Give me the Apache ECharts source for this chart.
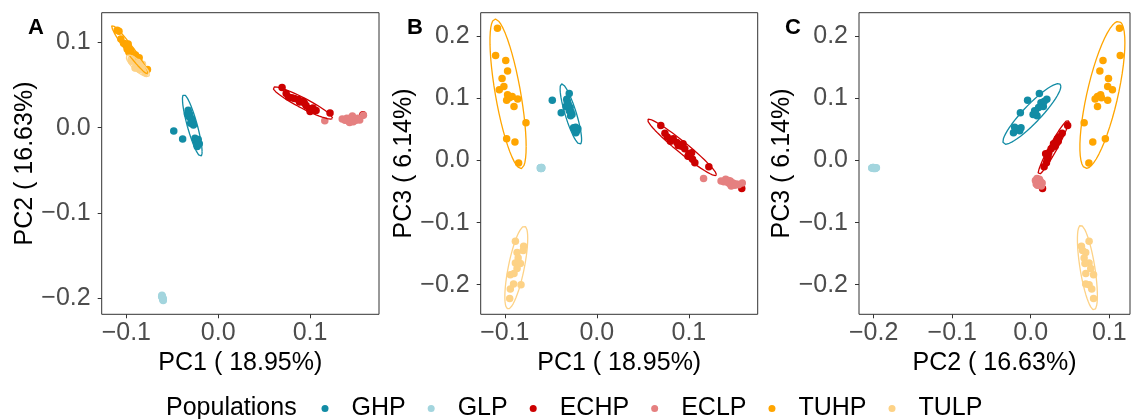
<!DOCTYPE html>
<html>
<head>
<meta charset="utf-8">
<script src="https://cdn.jsdelivr.net/npm/echarts@6/dist/echarts.min.js"></script>
<style>
  html, body { margin: 0; padding: 0; background: #fff; }
  #chart { width: 1131px; height: 419px; }
</style>
</head>
<body>
<div id="chart"></div>
<script>
// Populations and their colours
const POPULATIONS = ['GHP', 'GLP', 'ECHP', 'ECLP', 'TUHP', 'TULP'];
const COLORS = ['#128CA5', '#A3D5DE', '#CC0000', '#E58080', '#FFA500', '#FDD286'];
// Populations that get a 95% confidence ellipse
const ELLIPSE_POPS = ['GHP', 'ECHP', 'TUHP', 'TULP'];

// Principal component scores per individual
const GHP_PC1 = [-0.0484, -0.0387, -0.0300, -0.0327, -0.0320, -0.0335, -0.0290, -0.0300, -0.0270, -0.0285, -0.0310, -0.0253, -0.0206, -0.0228, -0.0240, -0.0218, -0.0230, -0.0320, -0.0280];
const GHP_PC2 = [-0.0040, -0.0132, 0.0110, 0.0205, 0.0130, 0.0160, 0.0100, 0.0050, 0.0030, 0.0080, 0.0150, -0.0124, -0.0190, -0.0220, -0.0160, -0.0140, -0.0205, 0.0170, 0.0060];
const GHP_PC3 = [0.0970, 0.0770, 0.1080, 0.0985, 0.0930, 0.0870, 0.0855, 0.0800, 0.0740, 0.0720, 0.0900, 0.0526, 0.0510, 0.0446, 0.0500, 0.0480, 0.0535, 0.0950, 0.0780];

const GLP_PC1 = [-0.0612, -0.0605, -0.0600, -0.0610, -0.0598, -0.0608, -0.0603, -0.0615, -0.0601, -0.0607, -0.0604, -0.0609];
const GLP_PC2 = [-0.1965, -0.1990, -0.2010, -0.1980, -0.2025, -0.1995, -0.2000, -0.1975, -0.2020, -0.1992, -0.2005, -0.1985];
const GLP_PC3 = [-0.0118, -0.0125, -0.0112, -0.0130, -0.0120, -0.0115, -0.0128, -0.0122, -0.0119, -0.0126, -0.0113, -0.0124];

const ECHP_PC1 = [0.0695, 0.0740, 0.0765, 0.0800, 0.0830, 0.0870, 0.0885, 0.0920, 0.0937, 0.0956, 0.0990, 0.1000, 0.1030, 0.1040, 0.1065, 0.1217, 0.1575];
const ECHP_PC2 = [0.0470, 0.0400, 0.0360, 0.0350, 0.0340, 0.0330, 0.0300, 0.0310, 0.0290, 0.0260, 0.0220, 0.0190, 0.0230, 0.0210, 0.0200, 0.0170, 0.0150];
const ECHP_PC3 = [0.0565, 0.0440, 0.0380, 0.0310, 0.0350, 0.0290, 0.0240, 0.0230, 0.0270, 0.0190, 0.0070, 0.0110, 0.0124, 0.0020, -0.0037, -0.0100, -0.0450];

const ECLP_PC1 = [0.1160, 0.1350, 0.1380, 0.1400, 0.1420, 0.1440, 0.1450, 0.1470, 0.1480, 0.1500, 0.1520, 0.1540, 0.1460, 0.1580, 0.1430];
const ECLP_PC2 = [0.0080, 0.0100, 0.0085, 0.0110, 0.0075, 0.0095, 0.0120, 0.0070, 0.0100, 0.0085, 0.0110, 0.0090, 0.0135, 0.0145, 0.0060];
const ECLP_PC3 = [-0.0290, -0.0330, -0.0340, -0.0300, -0.0350, -0.0370, -0.0330, -0.0380, -0.0360, -0.0400, -0.0380, -0.0390, -0.0410, -0.0360, -0.0320];

const TUHP_PC1 = [-0.108, -0.110, -0.099, -0.097, -0.103, -0.101, -0.106, -0.097, -0.092, -0.095, -0.086, -0.098, -0.090, -0.077, -0.098, -0.089, -0.085];
const TUHP_PC2 = [0.113, 0.114, 0.092, 0.088, 0.099, 0.098, 0.104, 0.089, 0.085, 0.090, 0.082, 0.098, 0.085, 0.068, 0.095, 0.079, 0.074];
const TUHP_PC3 = [0.213, 0.169, 0.161, 0.144, 0.132, 0.119, 0.114, 0.106, 0.103, 0.101, 0.099, 0.097, 0.087, 0.061, 0.035, 0.030, -0.004];

const TULP_PC1 = [-0.0885, -0.0795, -0.0800, -0.0867, -0.0855, -0.0885, -0.0831, -0.0867, -0.0940, -0.0900, -0.0905, -0.0824, -0.0940, -0.0947];
const TULP_PC2 = [0.0743, 0.0645, 0.0660, 0.0700, 0.0680, 0.0743, 0.0690, 0.0764, 0.0800, 0.0701, 0.0700, 0.0743, 0.0777, 0.0800];
const TULP_PC3 = [-0.130, -0.138, -0.145, -0.148, -0.157, -0.165, -0.166, -0.174, -0.184, -0.182, -0.199, -0.200, -0.207, -0.222];

// Axis titles and tick values
const PC_TITLES = { PC1: 'PC1 ( 18.95%)', PC2: 'PC2 ( 16.63%)', PC3: 'PC3 ( 6.14%)' };
const TICKS_PC1 = [-0.1, 0.0, 0.1];
const TICKS_PC2_A = [-0.2, -0.1, 0.0, 0.1];
const TICKS_PC2_C = [-0.2, -0.1, 0.0, 0.1];
const TICKS_PC3 = [-0.2, -0.1, 0.0, 0.1, 0.2];
const PANEL_TAGS = ['A', 'B', 'C'];

const SCORES = {
  GHP: { PC1: GHP_PC1, PC2: GHP_PC2, PC3: GHP_PC3 },
  GLP: { PC1: GLP_PC1, PC2: GLP_PC2, PC3: GLP_PC3 },
  ECHP: { PC1: ECHP_PC1, PC2: ECHP_PC2, PC3: ECHP_PC3 },
  ECLP: { PC1: ECLP_PC1, PC2: ECLP_PC2, PC3: ECLP_PC3 },
  TUHP: { PC1: TUHP_PC1, PC2: TUHP_PC2, PC3: TUHP_PC3 },
  TULP: { PC1: TULP_PC1, PC2: TULP_PC2, PC3: TULP_PC3 }
};

const FONT = '"Liberation Sans", Arial, Helvetica, sans-serif';

// Robust multivariate-t location/scatter estimate (nu = 5), as used for
// data ellipses, restricted to two dimensions.
function covTrob(xs, ys, nu = 5, maxit = 25, tol = 0.01) {
  const n = xs.length, p = 2;
  let w = new Array(n).fill(1);
  let lx = xs.reduce((a, b) => a + b, 0) / n;
  let ly = ys.reduce((a, b) => a + b, 0) / n;
  let dx = [], dy = [];
  for (let it = 0; it < maxit; it++) {
    const w0 = w.slice();
    dx = xs.map(v => v - lx);
    dy = ys.map(v => v - ly);
    const sw = w.reduce((a, b) => a + b, 0);
    let sxx = 0, sxy = 0, syy = 0;
    for (let i = 0; i < n; i++) {
      sxx += w[i] * dx[i] * dx[i] / sw;
      sxy += w[i] * dx[i] * dy[i] / sw;
      syy += w[i] * dy[i] * dy[i] / sw;
    }
    const det = sxx * syy - sxy * sxy;
    w = dx.map((u, i) => {
      const v = dy[i];
      const q = (syy * u * u - 2 * sxy * u * v + sxx * v * v) / det;
      return (nu + p) / (nu + q);
    });
    const sw2 = w.reduce((a, b) => a + b, 0);
    lx = xs.reduce((a, v, i) => a + w[i] * v, 0) / sw2;
    ly = ys.reduce((a, v, i) => a + w[i] * v, 0) / sw2;
    if (w.every((v, i) => Math.abs(v - w0[i]) < tol)) break;
  }
  let c11 = 0, c12 = 0, c22 = 0;
  for (let i = 0; i < n; i++) {
    c11 += w[i] * dx[i] * dx[i];
    c12 += w[i] * dx[i] * dy[i];
    c22 += w[i] * dy[i] * dy[i];
  }
  return { cx: lx, cy: ly, c11: c11 / n, c12: c12 / n, c22: c22 / n };
}

// 95% data ellipse outline (t-based), as a closed polyline in data space.
function ellipsePath(xs, ys, level = 0.95, segments = 51) {
  const s = covTrob(xs, ys);
  const dfd = xs.length - 1;
  const qf = dfd / 2 * (Math.pow(1 - level, -2 / dfd) - 1);
  const radius = Math.sqrt(2 * qf);
  const a = Math.sqrt(s.c11);
  const b = s.c12 / a;
  const c = Math.sqrt(Math.max(s.c22 - b * b, 0));
  const pts = [];
  for (let k = 0; k <= segments; k++) {
    const t = 2 * Math.PI * k / segments;
    pts.push([s.cx + radius * Math.cos(t) * a,
              s.cy + radius * (Math.cos(t) * b + Math.sin(t) * c)]);
  }
  return pts;
}

function tickLabel(v) {
  const s = Math.abs(v).toFixed(1);
  return v < -1e-9 ? '\u2212' + s : s;
}

// Panel geometry and data ranges
const PANELS = [
  { x: 'PC1', y: 'PC2', left: 101.7, width: 277.3, xMin: -0.1268, xMax: 0.1750, yMin: -0.2188, yMax: 0.1347, xTicks: TICKS_PC1, yTicks: TICKS_PC2_A },
  { x: 'PC1', y: 'PC3', left: 480.7, width: 277.0, xMin: -0.1262, xMax: 0.1748, yMin: -0.2476, yMax: 0.2380, xTicks: TICKS_PC1, yTicks: TICKS_PC3 },
  { x: 'PC2', y: 'PC3', left: 859.0, width: 271.0, xMin: -0.2187, xMax: 0.1264, yMin: -0.2476, yMax: 0.2380, xTicks: TICKS_PC2_C, yTicks: TICKS_PC3 }
];
const PLOT_TOP = 12.7, PLOT_HEIGHT = 301.6;

const grids = [], xAxes = [], yAxes = [], series = [], titles = [];

PANELS.forEach((p, gi) => {
  grids.push({
    left: p.left, top: PLOT_TOP, width: p.width, height: PLOT_HEIGHT,
    show: true, borderColor: '#333333', borderWidth: 1, backgroundColor: '#fff'
  });
  const common = {
    type: 'value', gridIndex: gi, splitLine: { show: false },
    axisLine: { show: false, onZero: false },
    axisTick: { show: true, length: 4, lineStyle: { color: '#333333', width: 1 } },
    nameLocation: 'middle',
    nameTextStyle: { fontSize: 25, color: '#000', fontFamily: FONT }
  };
  xAxes.push(Object.assign({}, common, {
    position: 'bottom',
    min: p.xMin, max: p.xMax, name: PC_TITLES[p.x], nameGap: 31,
    axisTick: Object.assign({}, common.axisTick, { customValues: p.xTicks }),
    axisLabel: { customValues: p.xTicks, formatter: tickLabel, fontSize: 25, color: '#4D4D4D', fontFamily: FONT, margin: 6 }
  }));
  yAxes.push(Object.assign({}, common, {
    position: 'left',
    min: p.yMin, max: p.yMax, name: PC_TITLES[p.y], nameGap: 63,
    axisTick: Object.assign({}, common.axisTick, { customValues: p.yTicks }),
    axisLabel: { customValues: p.yTicks, formatter: tickLabel, fontSize: 25, color: '#4D4D4D', fontFamily: FONT, margin: 11 }
  }));

  POPULATIONS.forEach((pop, k) => {
    const d = SCORES[pop];
    series.push({
      name: pop, type: 'scatter', xAxisIndex: gi, yAxisIndex: gi,
      symbol: 'circle', symbolSize: 7.5, z: 2, silent: true,
      itemStyle: { color: COLORS[k], opacity: 1 },
      data: d[p.x].map((v, i) => [v, d[p.y][i]])
    });
  });
  ELLIPSE_POPS.forEach(pop => {
    const d = SCORES[pop];
    series.push({
      name: pop + ' ellipse', type: 'line', xAxisIndex: gi, yAxisIndex: gi,
      showSymbol: false, symbol: 'none', z: 3, silent: true, smooth: false,
      lineStyle: { color: COLORS[POPULATIONS.indexOf(pop)], width: 1.3 },
      data: ellipsePath(d[p.x], d[p.y])
    });
  });
});

// Panel tags
[28, 407, 785].forEach((x, i) => {
  titles.push({
    text: PANEL_TAGS[i], left: x, top: 17, padding: 0,
    textStyle: { fontSize: 22, fontWeight: 'bold', color: '#000', fontFamily: FONT }
  });
});
// Legend heading
titles.push({
  text: 'Populations', left: 166, top: 396, padding: 0,
  textStyle: { fontSize: 25, fontWeight: 'normal', color: '#000', fontFamily: FONT }
});

const chart = echarts.init(document.getElementById('chart'), null, { renderer: 'canvas' });
chart.setOption({
  animation: false,
  backgroundColor: '#fff',
  title: titles,
  grid: grids,
  xAxis: xAxes,
  yAxis: yAxes,
  legend: {
    data: POPULATIONS, left: 321.5, top: 396, padding: 0,
    icon: 'circle', itemWidth: 7, itemHeight: 7, itemGap: 22,
    textStyle: { fontSize: 25, color: '#000', fontFamily: FONT, padding: [0, 0, 0, 18] }
  },
  series: series
});
</script>
</body>
</html>
